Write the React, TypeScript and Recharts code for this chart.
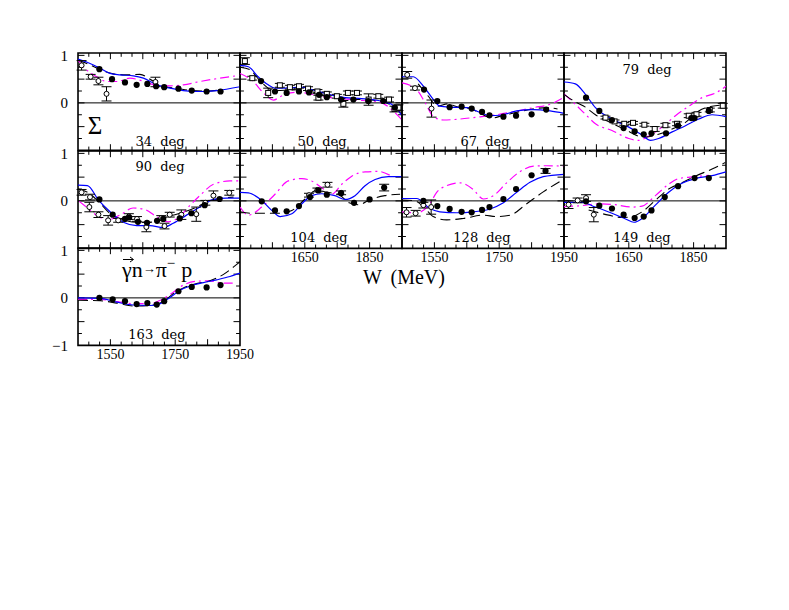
import React from 'react';
import { ComposedChart, Line, Scatter, XAxis, YAxis, ErrorBar, ReferenceLine, ReferenceArea } from 'recharts';

// [W (MeV), Sigma, error]
type P = [number, number, number?];

// 34 deg
const blue34: P[] = [[1450, 0.92], [1487, 0.83], [1518, 0.73], [1549, 0.62], [1580, 0.59], [1621, 0.57], [1652, 0.52], [1693, 0.38], [1734, 0.31], [1775, 0.26], [1827, 0.24], [1878, 0.26], [1950, 0.34]];
const dash34: P[] = [[1450, 0.9], [1487, 0.8], [1518, 0.7], [1559, 0.61], [1600, 0.59], [1641, 0.6], [1682, 0.46], [1716, 0.35], [1760, 0.3], [1801, 0.26], [1847, 0.25], [1890, 0.27]];
const dot34: P[] = [[1450, 0.9], [1477, 0.69], [1508, 0.55], [1539, 0.45], [1570, 0.45], [1610, 0.52], [1650, 0.46], [1693, 0.37], [1734, 0.36], [1775, 0.38], [1827, 0.45], [1878, 0.51], [1950, 0.58]];
const full34: P[] = [[1516, 0.71], [1555, 0.5], [1595, 0.43], [1631, 0.38], [1664, 0.4], [1691, 0.35], [1716, 0.33], [1760, 0.3], [1801, 0.26], [1847, 0.24], [1890, 0.24]];
const open34: P[] = [[1461, 0.79, 0.1], [1489, 0.55, 0.05], [1513, 0.46, 0.08], [1538, 0.19, 0.15], [1689, 0.44, 0.1]];

// 50 deg
const blue50: P[] = [[1450, 0.79], [1476, 0.76], [1506, 0.55], [1537, 0.38], [1558, 0.31], [1589, 0.31], [1640, 0.33], [1681, 0.26], [1723, 0.18], [1774, 0.11], [1826, 0.09], [1877, 0.05], [1918, -0.03], [1950, -0.27]];
const dash50: P[] = [[1450, 0.75], [1480, 0.7], [1510, 0.48], [1540, 0.3], [1565, 0.26], [1600, 0.27], [1640, 0.28], [1680, 0.22], [1720, 0.14], [1770, 0.09], [1826, 0.07], [1877, 0.04], [1918, -0.05], [1950, -0.22]];
const dot50: P[] = [[1450, 0.62], [1486, 0.48], [1527, 0.18], [1553, 0.06], [1580, 0.15], [1620, 0.22], [1660, 0.2], [1700, 0.14], [1731, 0.11], [1780, 0.08], [1830, 0.05], [1880, 0.02], [1918, -0.14], [1950, -0.36]];
const full50: P[] = [[1515, 0.46], [1558, 0.24], [1594, 0.21], [1632, 0.24], [1663, 0.22], [1694, 0.17], [1718, 0.12], [1762, 0.07], [1800, 0.07], [1846, 0.04], [1892, 0.04], [1928, -0.1]];
const open50: P[] = [[1465, 0.88, 0.07], [1488, 0.52, 0.04], [1537, 0.21, 0.1], [1573, 0.37, 0.04], [1604, 0.33, 0.04], [1632, 0.35, 0.04], [1660, 0.3, 0.04], [1689, 0.24, 0.04], [1692, 0.11, 0.05], [1718, 0.19, 0.04], [1749, 0.14, 0.04], [1769, -0.02, 0.07], [1783, 0.21, 0.04], [1811, 0.21, 0.04], [1847, 0.07, 0.12], [1877, 0.14, 0.04], [1910, 0.07, 0.05], [1927, -0.13, 0.06], [1939, -0.1, 0.06]];

// 67 deg
const blue67: P[] = [[1450, 0.55], [1485, 0.55], [1516, 0.35], [1547, 0.07], [1567, -0.07], [1598, -0.09], [1650, -0.1], [1691, -0.2], [1722, -0.27], [1753, -0.26], [1804, -0.17], [1855, -0.14], [1907, -0.17], [1950, -0.22]];
const dash67: P[] = [[1500, 0.4], [1530, 0.15], [1560, -0.07], [1590, -0.02], [1620, -0.08], [1660, -0.12], [1700, -0.25], [1725, -0.32], [1760, -0.27], [1810, -0.19], [1860, -0.12], [1900, -0.1], [1930, -0.13]];
const dot67: P[] = [[1450, 0.42], [1495, 0.28], [1521, 0.01], [1547, -0.29], [1578, -0.36], [1630, -0.34], [1681, -0.3], [1722, -0.27], [1784, -0.2], [1855, -0.1], [1907, -0.03], [1950, 0.12]];
const full67: P[] = [[1518, 0.28], [1559, 0.04], [1597, -0.09], [1634, -0.08], [1665, -0.12], [1697, -0.19], [1720, -0.26], [1763, -0.29], [1802, -0.27], [1850, -0.24], [1895, -0.14]];
const open67: P[] = [[1466, 0.59, 0.07], [1490, 0.31, 0.04], [1541, -0.12, 0.18]];

// 79 deg
const blue79: P[] = [[1450, 0.44], [1485, 0.4], [1516, 0.18], [1547, -0.1], [1598, -0.34], [1650, -0.51], [1691, -0.68], [1717, -0.79], [1742, -0.75], [1784, -0.61], [1825, -0.48], [1866, -0.34], [1907, -0.25], [1950, -0.29]];
const dash79: P[] = [[1450, 0.18], [1485, 0.02], [1516, -0.09], [1547, -0.25], [1598, -0.43], [1650, -0.6], [1680, -0.7], [1701, -0.72], [1742, -0.66], [1784, -0.55], [1825, -0.41], [1866, -0.17], [1907, -0.07], [1933, -0.05]];
const dot79: P[] = [[1450, 0.19], [1485, -0.03], [1516, -0.24], [1547, -0.44], [1598, -0.58], [1650, -0.75], [1680, -0.79], [1711, -0.7], [1753, -0.51], [1794, -0.27], [1835, -0.07], [1876, 0.11], [1918, 0.21], [1950, 0.35]];
const full79: P[] = [[1518, 0.11], [1559, -0.17], [1598, -0.36], [1634, -0.53], [1668, -0.6], [1696, -0.66], [1720, -0.64], [1765, -0.64], [1802, -0.48], [1843, -0.32], [1853, -0.32], [1897, -0.17]];
const open79: P[] = [[1578, -0.31, 0.03], [1606, -0.39, 0.03], [1636, -0.44, 0.03], [1663, -0.42, 0.03], [1698, -0.46, 0.03], [1730, -0.55, 0.05], [1763, -0.47, 0.04], [1799, -0.44, 0.04], [1835, -0.27, 0.04], [1859, -0.24, 0.04], [1900, -0.15, 0.04], [1940, -0.06, 0.05]];

// 90 deg
const blue90: P[] = [[1450, 0.33], [1479, 0.32], [1514, 0.01], [1549, -0.23], [1590, -0.45], [1631, -0.52], [1672, -0.52], [1713, -0.56], [1744, -0.47], [1785, -0.3], [1826, -0.13], [1868, 0.03], [1909, 0.06], [1950, 0.06]];
const dash90: P[] = [[1450, 0.25], [1480, 0.18], [1514, -0.02], [1549, -0.27], [1590, -0.4], [1631, -0.45], [1672, -0.45], [1700, -0.4], [1730, -0.33], [1770, -0.25], [1810, -0.15], [1850, -0.02], [1890, 0.05], [1930, 0.08]];
const dot90: P[] = [[1454, -0.01], [1476, -0.13], [1507, -0.3], [1543, -0.4], [1579, -0.3], [1620, -0.15], [1656, -0.18], [1692, -0.33], [1728, -0.44], [1764, -0.33], [1795, -0.1], [1826, 0.11], [1868, 0.35], [1919, 0.42], [1950, 0.42]];
const full90: P[] = [[1516, 0.03], [1557, -0.29], [1595, -0.38], [1608, -0.35], [1635, -0.44], [1663, -0.46], [1694, -0.42], [1713, -0.38], [1764, -0.37], [1800, -0.26], [1841, -0.09], [1887, 0.04]];
const open90: P[] = [[1461, 0.18, 0.06], [1487, 0.08, 0.06], [1485, -0.13, 0.1], [1513, -0.29, 0.06], [1543, -0.41, 0.1], [1574, -0.41, 0.04], [1607, -0.33, 0.06], [1632, -0.38, 0.05], [1661, -0.55, 0.1], [1707, -0.36, 0.05], [1717, -0.53, 0.06], [1733, -0.29, 0.05], [1769, -0.29, 0.1], [1815, -0.28, 0.15], [1843, -0.04, 0.05], [1868, 0.11, 0.1], [1917, 0.17, 0.05]];

// 104 deg
const blue104: P[] = [[1450, 0.18], [1476, 0.17], [1517, 0.01], [1548, -0.2], [1574, -0.33], [1610, -0.27], [1641, -0.06], [1671, 0.11], [1702, 0.15], [1743, 0.11], [1774, 0.03], [1805, 0.11], [1836, 0.32], [1867, 0.45], [1908, 0.51], [1950, 0.51]];
const dash104: P[] = [[1450, -0.23], [1486, -0.26], [1527, -0.26], [1568, -0.26], [1610, -0.2], [1651, 0.04], [1687, 0.23], [1718, 0.18], [1754, 0.14], [1784, -0.03], [1815, -0.08], [1856, 0.04], [1897, 0.11], [1944, 0.14]];
const dot104: P[] = [[1450, -0.13], [1476, -0.3], [1517, -0.13], [1558, 0.14], [1599, 0.42], [1641, 0.47], [1671, 0.42], [1702, 0.28], [1733, 0.14], [1764, 0.35], [1795, 0.52], [1836, 0.61], [1877, 0.62], [1913, 0.54]];
const full104: P[] = [[1517, -0.01], [1558, -0.2], [1594, -0.22], [1632, -0.11], [1666, 0.08], [1692, 0.22], [1718, 0.13], [1762, 0.16], [1802, -0.04], [1850, 0.03], [1895, 0.28, 0.07]];
const open104: P[] = [[1663, 0.12, 0.04], [1689, 0.23, 0.04], [1720, 0.34, 0.05], [1762, 0.17, 0.04]];

// 128 deg
const blue128: P[] = [[1450, 0.05], [1495, 0.05], [1536, -0.16], [1567, -0.23], [1619, -0.25], [1670, -0.23], [1722, -0.17], [1763, -0.04], [1804, 0.18], [1845, 0.39], [1886, 0.51], [1950, 0.56]];
const dash128: P[] = [[1450, 0.02], [1490, 0.0], [1520, -0.15], [1546, -0.33], [1588, -0.4], [1639, -0.37], [1701, -0.3], [1742, -0.33], [1784, -0.3], [1835, -0.06], [1886, 0.19], [1948, 0.45]];
const dot128: P[] = [[1450, -0.23], [1495, -0.25], [1536, -0.06], [1557, 0.18], [1588, 0.32], [1629, 0.38], [1670, 0.24], [1701, 0.04], [1732, 0.11], [1773, 0.38], [1815, 0.62], [1856, 0.73], [1897, 0.74], [1948, 0.73]];
const full128: P[] = [[1516, 0.0], [1559, -0.11], [1597, -0.17], [1634, -0.23], [1665, -0.24], [1697, -0.19], [1720, -0.13], [1763, 0.04], [1802, 0.25], [1850, 0.54], [1893, 0.63, 0.05]];
const open128: P[] = [[1464, -0.24, 0.1], [1492, -0.26, 0.06], [1516, -0.09, 0.06], [1540, -0.13, 0.15]];

// 149 deg
const blue149: P[] = [[1450, -0.03], [1505, -0.03], [1547, -0.13], [1598, -0.26], [1640, -0.38], [1666, -0.45], [1691, -0.37], [1732, -0.09], [1773, 0.18], [1814, 0.37], [1855, 0.47], [1907, 0.53], [1950, 0.61]];
const dash149: P[] = [[1526, -0.19], [1588, -0.3], [1629, -0.35], [1660, -0.33], [1691, -0.23], [1732, 0.01], [1773, 0.25], [1814, 0.38], [1855, 0.52], [1907, 0.67], [1948, 0.81]];
const dot149: P[] = [[1450, -0.12], [1505, -0.1], [1557, -0.06], [1608, -0.08], [1660, -0.13], [1691, -0.11], [1732, 0.11], [1773, 0.35], [1804, 0.47], [1855, 0.51], [1897, 0.54]];
const full149: P[] = [[1518, -0.01], [1559, -0.1], [1598, -0.16], [1634, -0.29], [1668, -0.36], [1696, -0.33], [1720, -0.2], [1761, 0.08], [1802, 0.31], [1853, 0.48], [1897, 0.48]];
const open149: P[] = [[1464, -0.08, 0.08], [1492, 0.01, 0.05], [1518, 0.06, 0.07], [1542, -0.29, 0.15]];

// 163 deg
const blue163: P[] = [[1450, 0.0], [1518, -0.01], [1570, -0.09], [1621, -0.15], [1673, -0.16], [1704, -0.12], [1734, 0.01], [1765, 0.16], [1796, 0.25], [1837, 0.32], [1878, 0.38], [1919, 0.45], [1950, 0.52]];
const dash163: P[] = [[1450, -0.05], [1518, -0.06], [1570, -0.11], [1621, -0.17], [1673, -0.16], [1713, -0.08], [1744, 0.09], [1775, 0.21], [1816, 0.3], [1857, 0.36], [1898, 0.49], [1939, 0.7], [1950, 0.76]];
const dot163: P[] = [[1450, -0.03], [1518, -0.03], [1570, -0.08], [1621, -0.12], [1673, -0.12], [1704, -0.05], [1734, 0.07], [1775, 0.27], [1816, 0.35], [1857, 0.36], [1898, 0.31], [1935, 0.31]];
const full163: P[] = [[1516, 0.0], [1557, -0.03], [1595, -0.07], [1631, -0.13], [1664, -0.11], [1693, -0.14], [1716, -0.07], [1760, 0.14], [1801, 0.23], [1847, 0.22], [1890, 0.27]];

const W_MIN = 1450, W_MAX = 1950, S_MIN = -1, S_MAX = 1.05;

// layout (page pixels)
const PW = 162, PH = 97.4;
const COL_X = [78, 240, 402, 564];
const ROW_Y = [53.4, 150.8, 248.2];
const ML = 34, MR = 24, MT = 6, MB = 24;

const FONT = "'Liberation Serif', 'Times New Roman', serif";

interface Panel {
  col: number; row: number;
  blue: P[]; dash: P[]; dot: P[]; full: P[]; open: P[];
  square?: boolean;
  xLabels: number[]; yLabels: number[];
}

const panels: Panel[] = [
  { col: 0, row: 0, blue: blue34, dash: dash34, dot: dot34, full: full34, open: open34, xLabels: [], yLabels: [0, 1] },
  { col: 1, row: 0, blue: blue50, dash: dash50, dot: dot50, full: full50, open: open50, square: true, xLabels: [], yLabels: [] },
  { col: 2, row: 0, blue: blue67, dash: dash67, dot: dot67, full: full67, open: open67, xLabels: [], yLabels: [] },
  { col: 3, row: 0, blue: blue79, dash: dash79, dot: dot79, full: full79, open: open79, square: true, xLabels: [], yLabels: [] },
  { col: 0, row: 1, blue: blue90, dash: dash90, dot: dot90, full: full90, open: open90, xLabels: [], yLabels: [0, 1] },
  { col: 1, row: 1, blue: blue104, dash: dash104, dot: dot104, full: full104, open: open104, xLabels: [1650, 1850], yLabels: [] },
  { col: 2, row: 1, blue: blue128, dash: dash128, dot: dot128, full: full128, open: open128, xLabels: [1550, 1750, 1950], yLabels: [] },
  { col: 3, row: 1, blue: blue149, dash: dash149, dot: dot149, full: full149, open: open149, xLabels: [1650, 1850], yLabels: [] },
  { col: 0, row: 2, blue: blue163, dash: dash163, dot: dot163, full: full163, open: [], xLabels: [1550, 1750, 1950], yLabels: [-1, 0, 1] },
];

const angleLabels = [
  { text: '34 deg', x: 160, y: 146 },
  { text: '50 deg', x: 322, y: 146 },
  { text: '67 deg', x: 485, y: 146 },
  { text: '79 deg', x: 647, y: 74 },
  { text: '90 deg', x: 160, y: 171 },
  { text: '104 deg', x: 319, y: 242 },
  { text: '128 deg', x: 482, y: 242 },
  { text: '149 deg', x: 642, y: 242 },
  { text: '163 deg', x: 157, y: 339 },
];

const toPts = (arr: P[]) => arr.map(([w, v, e]) => ({ w, v, e: e ?? 0 }));

// tick positions along the frame
const X_TICKS: number[] = [];
for (let k = 1; k < 15; k++) X_TICKS.push(W_MIN + (k * 100) / 3);
const Y_TICKS = [-0.75, -0.5, -0.25, 0, 0.25, 0.5, 0.75, 1];

const FilledDot = (p: any) => <circle cx={p.cx} cy={p.cy} r={3.1} fill="#000" />;
const OpenDot = (p: any) => <circle cx={p.cx} cy={p.cy} r={2.5} fill="#fff" stroke="#000" strokeWidth={1} />;
const OpenSquare = (p: any) => <rect x={p.cx - 2.5} y={p.cy - 2.5} width={5} height={5} fill="#fff" stroke="#000" strokeWidth={1} />;

const minus = (v: number) => (v < 0 ? '\u2212' + Math.abs(v) : String(v));

const tickMarks = () => {
  const out: React.ReactNode[] = [];
  X_TICKS.forEach((w, i) => {
    const len = (i + 1) % 3 === 0 ? 0.13 : 0.08;
    out.push(<ReferenceLine key={'xb' + i} segment={[{ x: w, y: S_MIN }, { x: w, y: S_MIN + len }]} stroke="#000" strokeWidth={1} />);
    out.push(<ReferenceLine key={'xt' + i} segment={[{ x: w, y: S_MAX }, { x: w, y: S_MAX - len }]} stroke="#000" strokeWidth={1} />);
  });
  Y_TICKS.forEach((s, i) => {
    const len = s % 0.5 === 0 ? 20 : 12;
    out.push(<ReferenceLine key={'yl' + i} segment={[{ x: W_MIN, y: s }, { x: W_MIN + len, y: s }]} stroke="#000" strokeWidth={1} />);
    out.push(<ReferenceLine key={'yr' + i} segment={[{ x: W_MAX, y: s }, { x: W_MAX - len, y: s }]} stroke="#000" strokeWidth={1} />);
  });
  return out;
};

const PanelChart = ({ p }: { p: Panel }) => (
  <div style={{ position: 'absolute', left: COL_X[p.col] - ML, top: ROW_Y[p.row] - MT }}>
    <ComposedChart width={PW + ML + MR} height={PH + MT + MB} margin={{ top: MT, right: MR, left: 0, bottom: 0 }}>
      <XAxis
        type="number" dataKey="w" domain={[W_MIN, W_MAX]} allowDataOverflow
        height={MB} axisLine={false} tickLine={false} tickSize={0} tickMargin={4}
        ticks={p.xLabels} interval={0}
        tick={p.xLabels.length ? { fontFamily: FONT, fontSize: 14, fill: '#000' } : false}
      />
      <YAxis
        type="number" dataKey="v" domain={[S_MIN, S_MAX]} allowDataOverflow
        width={ML} axisLine={false} tickLine={false} tickSize={0} tickMargin={10}
        ticks={p.yLabels} interval={0} tickFormatter={minus}
        tick={p.yLabels.length ? { fontFamily: FONT, fontSize: 15, fill: '#000' } : false}
      />
      <ReferenceLine y={0} stroke="#000" strokeWidth={1} />
      {tickMarks()}
      <Line data={toPts(p.dot)} dataKey="v" type="monotone" stroke="#ff00ff" strokeWidth={1.2} strokeDasharray="9 4 2 4" dot={false} isAnimationActive={false} />
      <Line data={toPts(p.dash)} dataKey="v" type="monotone" stroke="#000" strokeWidth={1.1} strokeDasharray="10 5" dot={false} isAnimationActive={false} />
      <Line data={toPts(p.blue)} dataKey="v" type="monotone" stroke="#0000ff" strokeWidth={1.2} dot={false} isAnimationActive={false} />
      <Scatter data={toPts(p.open)} dataKey="v" shape={p.square ? OpenSquare : OpenDot} isAnimationActive={false}>
        <ErrorBar dataKey="e" direction="y" width={5} stroke="#000" strokeWidth={1} />
      </Scatter>
      <Scatter data={toPts(p.full)} dataKey="v" shape={FilledDot} isAnimationActive={false}>
        <ErrorBar dataKey="e" direction="y" width={5} stroke="#000" strokeWidth={1} />
      </Scatter>
      <ReferenceArea x1={W_MIN} x2={W_MAX} y1={S_MIN} y2={S_MAX} fill="none" fillOpacity={0} stroke="#000" strokeWidth={1.6} />
    </ComposedChart>
  </div>
);

const App = () => (
  <div style={{ position: 'absolute', left: 0, top: 0, width: 789, height: 610, background: '#fff' }}>
    {panels.map((p, i) => <PanelChart key={i} p={p} />)}
    <svg width={789} height={610} style={{ position: 'absolute', left: 0, top: 0, pointerEvents: 'none' }}>
      {angleLabels.map((l) => (
        <text key={l.text} x={l.x} y={l.y} textAnchor="middle" fontFamily="'DejaVu Serif', serif" fontSize={13} wordSpacing={4} fill="#000">{l.text}</text>
      ))}
      <text x={95} y={134} textAnchor="middle" fontFamily={FONT} fontSize={25} fill="#000">Σ</text>
      <text x={404} y={284} textAnchor="middle" fontFamily={FONT} fontSize={20} wordSpacing={4} fill="#000">W (MeV)</text>
      {/* polarisation arrow over the photon */}
      <path d="M123 259.5 L133 259.5 M130 257 L133.5 259.5 L130 262" stroke="#000" strokeWidth={1} fill="none" />
      <text x={122} y={277} fontFamily={FONT} fontSize={22} fill="#000">
        γn
        <tspan fontSize={13} dy={-4}>→</tspan>
        <tspan dy={4}>π</tspan>
        <tspan fontSize={15} dy={-9}>−</tspan>
        <tspan dx={6} dy={9}>p</tspan>
      </text>
    </svg>
  </div>
);

export default App;
